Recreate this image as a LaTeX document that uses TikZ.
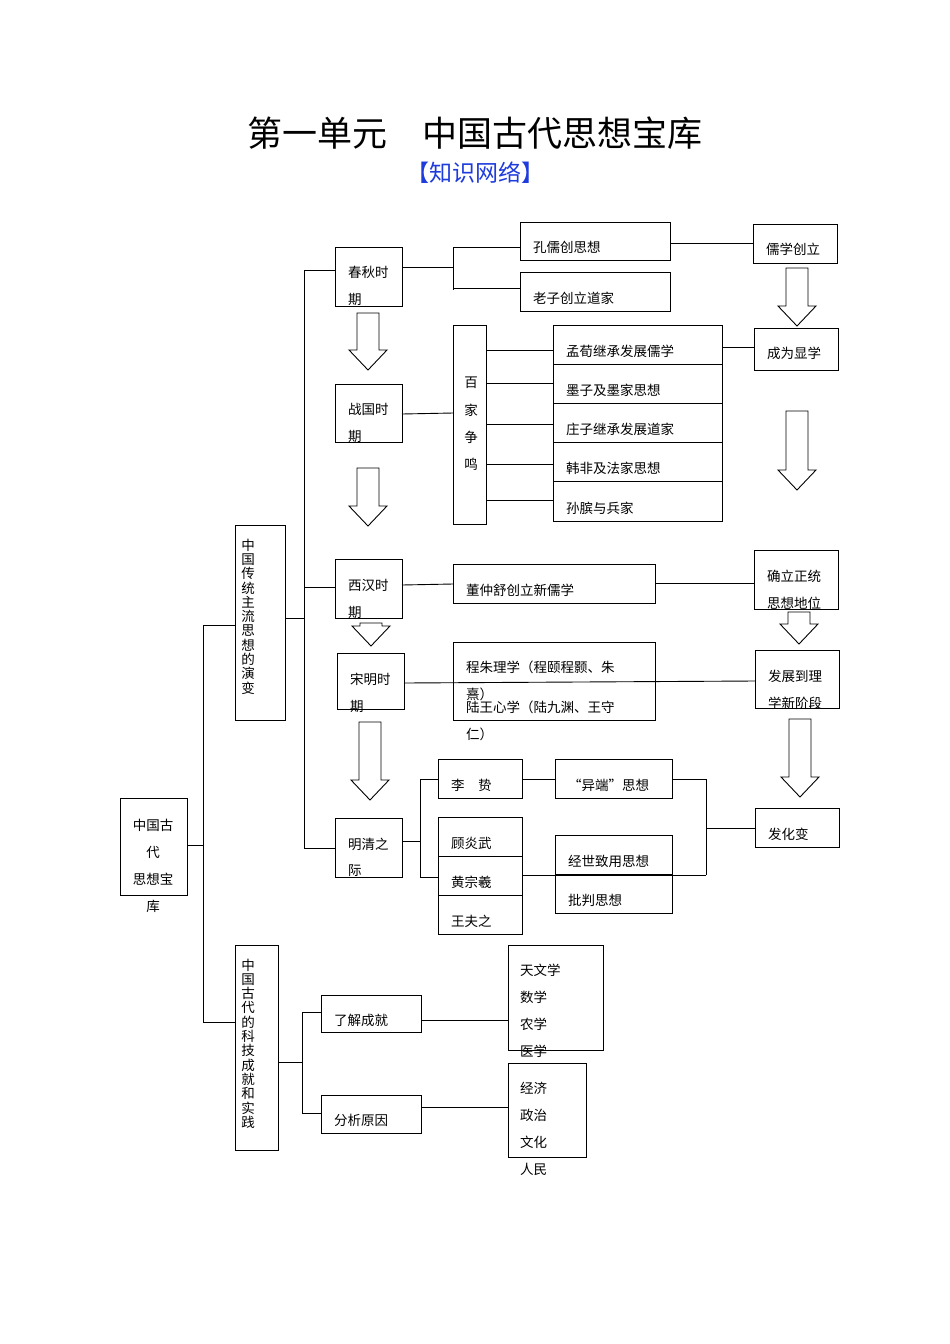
\documentclass[tikz,border=0pt]{standalone}
\usepackage{fontspec}
\newfontfamily\cjk{Noto Sans CJK SC}
\begin{document}
\begin{tikzpicture}[x=1pt,y=-1pt,
  bx/.style={draw,line width=0.9pt},
  ln/.style={line width=0.9pt},
  t/.style={anchor=west,inner sep=0pt,font=\cjk\fontsize{13.5}{14}\selectfont},
  tc/.style={anchor=center,inner sep=0pt,font=\cjk\fontsize{13.5}{14}\selectfont}]
\useasboundingbox (0,0) rectangle (950,1344);
\newcommand\darr[3]{\draw[line width=0.9pt] (#1-11,#2) -- (#1+11,#2) -- (#1+11,#3-20) -- (#1+19,#3-20) -- (#1,#3) -- (#1-19,#3-20) -- (#1-11,#3-20) -- cycle;}
\node[tc,font=\cjk\fontsize{35}{37}\selectfont] (title) at (475,133) {第一单元\hspace{1em}中国古代思想宝库};
\node[tc,font=\cjk\fontsize{23}{25}\selectfont,text={rgb,255:red,30;green,60;blue,220}] (sub) at (475,173) {【知识网络】};
% boxes
\draw[bx] (520,222) rectangle (670,260); \node[t] (kong) at (533,247) {孔儒创思想};
\draw[bx] (520,272) rectangle (670,311); \node[t] (lao) at (533,298) {老子创立道家};
\draw[bx] (753,224) rectangle (837,263); \node[t] at (766,249) {儒学创立};
\draw[bx] (754,328) rectangle (838,370); \node[t] at (767,353) {成为显学};
\draw[bx] (335,247) rectangle (402,306); \node[t] at (348,272) {春秋时}; \node[t] at (348,299) {期};
\draw[bx] (335,384) rectangle (402,442); \node[t] at (348,409) {战国时}; \node[t] at (348,436) {期};
\draw[bx] (453,325) rectangle (486,524);
\foreach \c/\y in {百/383,家/410,争/437,鸣/464} \node[tc] at (471,\y) {\c};
\foreach \a/\b/\s in {325/364/孟荀继承发展儒学,364/403/墨子及墨家思想,403/442/庄子继承发展道家,442/481/韩非及法家思想,481/521/孙膑与兵家}
  {\draw[bx] (553,\a) rectangle (722,\b); \node[t] at (566,\b-13) {\s};}
\foreach \y in {350,383,424,464,500} \draw[ln] (486,\y) -- (553,\y);
\draw[ln] (402,414) -- (453,413);
\draw[ln] (402,267) -- (453,267); \draw[ln] (453,247) -- (453,290);
\draw[ln] (453,247) -- (520,247); \draw[ln] (453,288) -- (520,288);
\draw[ln] (670,243) -- (753,243);
\draw[ln] (722,347) -- (754,347);
% arrows
\darr{368}{313}{370} \darr{368}{468}{526} \darr{797}{268}{326} \darr{797}{411}{490}
\darr{371}{623}{646} \darr{799}{612}{644} \darr{370}{722}{800} \darr{800}{719}{797}
% xihan
\draw[bx] (335,559) rectangle (402,618); \node[t] at (348,585) {西汉时}; \node[t] at (348,612) {期};
\draw[bx] (453,564) rectangle (655,603); \node[t] at (466,590) {董仲舒创立新儒学};
\draw[bx] (754,550) rectangle (838,609); \node[t] at (767,576) {确立正统}; \node[t] at (767,603) {思想地位};
\draw[ln] (402,585) -- (453,584); \draw[ln] (655,583) -- (754,583);
% songming
\draw[bx] (337,653) rectangle (404,709); \node[t] at (350,679) {宋明时}; \node[t] at (350,706) {期};
\draw[bx] (453,642) rectangle (655,720);
\node[t] at (466,667) {程朱理学（程颐程颢、朱}; \node[t] at (466,694) {熹）};
\node[t] at (466,707) {陆王心学（陆九渊、王守}; \node[t] at (466,734) {仁）};
\draw[bx] (755,650) rectangle (839,708); \node[t] at (768,676) {发展到理}; \node[t] at (768,703) {学新阶段};
\draw[ln] (404,683) -- (755,681);
% mingqing
\draw[bx] (335,818) rectangle (402,877); \node[t] at (348,844) {明清之}; \node[t] at (348,871) {际};
\draw[ln] (402,841) -- (420,841); \draw[ln] (420,779) -- (420,877);
\draw[ln] (420,779) -- (438,779); \draw[ln] (420,877) -- (438,877);
\draw[bx] (438,759) rectangle (522,798); \node[t] at (451,785) {李\hspace{1em}贽};
\draw[bx] (555,759) rectangle (672,798); \node[t] at (568,785) {“异端”思想};
\draw[ln] (522,779) -- (555,779); \draw[ln] (672,779) -- (706,779); \draw[ln] (706,779) -- (706,875);
\draw[bx] (438,817) rectangle (522,856); \node[t] at (451,843) {顾炎武};
\draw[bx] (438,856) rectangle (522,895); \node[t] at (451,882) {黄宗羲};
\draw[bx] (438,895) rectangle (522,934); \node[t] at (451,921) {王夫之};
\draw[bx] (555,835) rectangle (672,913); \draw[ln] (555,874) -- (672,874);
\node[t] at (568,861) {经世致用思想}; \node[t] at (568,900) {批判思想};
\draw[ln] (522,875) -- (706,875);
\draw[bx] (755,808) rectangle (839,847); \node[t] at (768,834) {发化变};
\draw[ln] (706,828) -- (755,828);
% left tree
\draw[bx] (235,525) rectangle (285,720);
\foreach \c [count=\i from 0] in {中,国,传,统,主,流,思,想,的,演,变} \node[tc] at (248,545+\i*14.3) {\c};
\draw[ln] (304,270) -- (304,848);
\draw[ln] (304,270) -- (335,270); \draw[ln] (304,587) -- (335,587); \draw[ln] (304,848) -- (335,848);
\draw[ln] (285,618) -- (304,618);
\draw[bx] (235,945) rectangle (278,1150);
\foreach \c [count=\i from 0] in {中,国,古,代,的,科,技,成,就,和,实,践} \node[tc] at (248,965+\i*14.3) {\c};
\draw[bx] (120,798) rectangle (187,895);
\node[tc] at (153,825) {中国古}; \node[tc] at (153,852) {代}; \node[tc] at (153,879) {思想宝}; \node[tc] at (153,906) {库};
\draw[ln] (187,845) -- (203,845); \draw[ln] (203,625) -- (203,1022);
\draw[ln] (203,625) -- (235,625); \draw[ln] (203,1022) -- (235,1022);
\draw[ln] (278,1062) -- (302,1062); \draw[ln] (302,1012) -- (302,1113);
\draw[ln] (302,1012) -- (321,1012); \draw[ln] (302,1113) -- (321,1113);
\draw[bx] (321,995) rectangle (421,1032); \node[t] at (334,1020) {了解成就};
\draw[bx] (321,1095) rectangle (421,1133); \node[t] at (334,1120) {分析原因};
\draw[ln] (421,1020) -- (508,1020); \draw[ln] (421,1107) -- (508,1107);
\draw[bx] (508,945) rectangle (603,1050);
\foreach \s/\y in {天文学/970,数学/997,农学/1024,医学/1051} \node[t] at (520,\y) {\s};
\draw[bx] (508,1063) rectangle (586,1157);
\foreach \s/\y in {经济/1088,政治/1115,文化/1142,人民/1169} \node[t] at (520,\y) {\s};
\end{tikzpicture}
\end{document}
